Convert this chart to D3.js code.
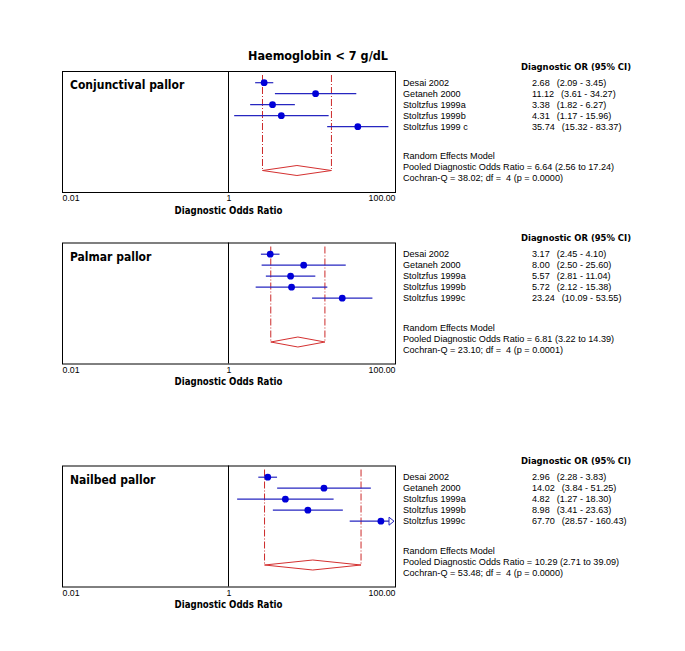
<!DOCTYPE html>
<html>
<head>
<meta charset="utf-8">
<script src="https://d3js.org/d3.v7.min.js"></script>
<style>
  html, body { margin: 0; padding: 0; background: #fff; }
  svg text { white-space: pre; }
  .bold { font-family: 'DejaVu Sans Condensed', 'DejaVu Sans', sans-serif; font-weight: bold; font-stretch: condensed; }
  .plain { font-family: 'Liberation Sans', Arial, sans-serif; }
</style>
</head>
<body>
<div id="chart"></div>
<script>
// ---- data ----
var title = "Haemoglobin < 7 g/dL";
var panels = ["Conjunctival pallor", "Palmar pallor", "Nailbed pallor"];
var studies = [
  ["Desai 2002", "Getaneh 2000", "Stoltzfus 1999a", "Stoltzfus 1999b", "Stoltzfus 1999 c"],
  ["Desai 2002", "Getaneh 2000", "Stoltzfus 1999a", "Stoltzfus 1999b", "Stoltzfus 1999c"],
  ["Desai 2002", "Getaneh 2000", "Stoltzfus 1999a", "Stoltzfus 1999b", "Stoltzfus 1999c"]
];
var dor = [
  [2.68, 11.12, 3.38, 4.31, 35.74],
  [3.17, 8.00, 5.57, 5.72, 23.24],
  [2.96, 14.02, 4.82, 8.98, 67.70]
];
var ciLow = [
  [2.09, 3.61, 1.82, 1.17, 15.32],
  [2.45, 2.50, 2.81, 2.12, 10.09],
  [2.28, 3.84, 1.27, 3.41, 28.57]
];
var ciHigh = [
  [3.45, 34.27, 6.27, 15.96, 83.37],
  [4.10, 25.60, 11.04, 15.38, 53.55],
  [3.83, 51.25, 18.30, 23.63, 160.43]
];
var pooled = [6.64, 6.81, 10.29];
var pooledLow = [2.56, 3.22, 2.71];
var pooledHigh = [17.24, 14.39, 39.09];
var cochranQ = [38.02, 23.10, 53.48];
var df = [4, 4, 4];
var pValue = ["0.0000", "0.0001", "0.0000"];
var tickValues = [0.01, 1, 100];
var tickLabels = ["0.01", "1", "100.00"];

// ---- layout ----
var W = 685, H = 651;
var panelTop = [71, 242.5, 465.5];
var boxH = 121;
var f2 = d3.format(".2f");

var svg = d3.select("#chart").append("svg")
    .attr("width", W)
    .attr("height", H);

svg.append("rect").attr("width", W).attr("height", H).attr("fill", "#fff");

var x = d3.scaleLog().domain([0.01, 100]).range([62, 395]).clamp(true);
var row = d3.scaleLinear().domain([0, 4]).range([11.7, 55.7]);

svg.append("text")
    .attr("class", "bold")
    .attr("x", 318).attr("y", 60)
    .attr("text-anchor", "middle")
    .attr("font-size", "12.5px")
    .text(title);

panels.forEach(function(name, p){
  var g = svg.append("g").attr("transform", "translate(0," + panelTop[p] + ")");

  // box
  g.append("rect")
      .attr("x", x.range()[0] + 0.5).attr("y", 0.5)
      .attr("width", x.range()[1] - x.range()[0]).attr("height", boxH)
      .attr("fill", "none").attr("stroke", "#000").attr("stroke-width", 1);

  g.append("line")
      .attr("x1", Math.round(x(1)) + 0.5).attr("x2", Math.round(x(1)) + 0.5)
      .attr("y1", 0).attr("y2", boxH)
      .attr("stroke", "#000");

  g.append("text")
      .attr("class", "bold")
      .attr("x", 70).attr("y", 18)
      .attr("font-size", "12px")
      .text(name);

  // pooled dashed lines + diamond
  var dy = 99.5;
  [pooledLow[p], pooledHigh[p]].forEach(function(v){
    g.append("line")
        .attr("x1", x(v)).attr("x2", x(v))
        .attr("y1", 4).attr("y2", dy)
        .attr("stroke", "#cc2a2a")
        .attr("stroke-width", 1)
        .attr("stroke-dasharray", "7,2,1,2");
  });
  var pts = [[x(pooledLow[p]), dy], [x(pooled[p]), dy - 5], [x(pooledHigh[p]), dy], [x(pooled[p]), dy + 5]];
  g.append("polygon")
      .attr("points", pts.map(function(d){ return d.join(","); }).join(" "))
      .attr("fill", "none").attr("stroke", "#d43030").attr("stroke-width", 1);

  // studies
  var rows = g.selectAll(".study")
      .data(studies[p].map(function(s, i){
        return {name: s, or: dor[p][i], lo: ciLow[p][i], hi: ciHigh[p][i], i: i};
      }))
      .enter().append("g").attr("class", "study");

  rows.append("line")
      .attr("x1", function(d){ return x(d.lo); })
      .attr("x2", function(d){ return d.hi > 100 ? x(100) - 6 : x(d.hi); })
      .attr("y1", function(d){ return row(d.i); })
      .attr("y2", function(d){ return row(d.i); })
      .attr("stroke", "#2626c0").attr("stroke-width", 1.2);

  rows.filter(function(d){ return d.hi > 100; })
      .append("path")
      .attr("d", function(d){
        var xe = x(100), y = row(d.i);
        return "M" + (xe - 6) + "," + (y - 4) + "L" + (xe - 1) + "," + y + "L" + (xe - 6) + "," + (y + 4) + "Z";
      })
      .attr("fill", "#fff").attr("stroke", "#2626c0").attr("stroke-width", 1);

  rows.append("circle")
      .attr("cx", function(d){ return x(d.or); })
      .attr("cy", function(d){ return row(d.i); })
      .attr("r", 3.4)
      .attr("fill", "#0000d8");

  // axis
  var axis = d3.axisBottom(x)
      .tickValues(tickValues)
      .tickSize(0)
      .tickPadding(0)
      .tickFormat(function(d, i){ return tickLabels[i]; });
  var ag = g.append("g")
      .attr("class", "plain")
      .attr("transform", "translate(0," + (boxH + 3) + ")")
      .call(axis);
  ag.select(".domain").remove();
  ag.selectAll("text")
      .attr("font-family", "'Liberation Sans', Arial, sans-serif")
      .attr("font-size", "8.8px")
      .attr("fill", "#000")
      .attr("text-anchor", function(d, i){ return i === 0 ? "start" : (i === 2 ? "end" : "middle"); });

  g.append("text")
      .attr("class", "bold")
      .attr("x", x(1)).attr("y", boxH + 21.5)
      .attr("text-anchor", "middle")
      .attr("font-size", "9.6px")
      .text("Diagnostic Odds Ratio");

  // text column
  g.append("text")
      .attr("class", "bold")
      .attr("x", 521).attr("y", -1.5)
      .attr("font-size", "9.4px")
      .text("Diagnostic OR (95% CI)");

  var tc = g.selectAll(".lab")
      .data(studies[p].map(function(s, i){
        return {name: s, or: dor[p][i], lo: ciLow[p][i], hi: ciHigh[p][i], i: i};
      }))
      .enter().append("g").attr("class", "lab plain")
      .attr("font-size", "9.1px");

  tc.append("text")
      .attr("x", 403)
      .attr("y", function(d){ return row(d.i); })
      .attr("dy", "0.36em")
      .text(function(d){ return d.name; });

  var vt = tc.append("text")
      .attr("x", 532)
      .attr("y", function(d){ return row(d.i); })
      .attr("dy", "0.36em");
  vt.append("tspan").text(function(d){ return f2(d.or); });
  vt.append("tspan").attr("dx", 7)
      .text(function(d){ return "(" + f2(d.lo) + " - " + f2(d.hi) + ")"; });

  var summary = [
    "Random Effects Model",
    "Pooled Diagnostic Odds Ratio = " + f2(pooled[p]) + " (" + f2(pooledLow[p]) + " to " + f2(pooledHigh[p]) + ")",
    "Cochran-Q = " + f2(cochranQ[p]) + "; df =  " + df[p] + " (p = " + pValue[p] + ")"
  ];
  g.selectAll(".sum")
      .data(summary)
      .enter().append("text")
      .attr("class", "sum plain")
      .attr("x", 403)
      .attr("y", function(d, i){ return 85 + i * 11; })
      .attr("dy", "0.36em")
      .attr("font-size", "9.1px")
      .text(function(d){ return d; });
});
</script>
</body>
</html>
